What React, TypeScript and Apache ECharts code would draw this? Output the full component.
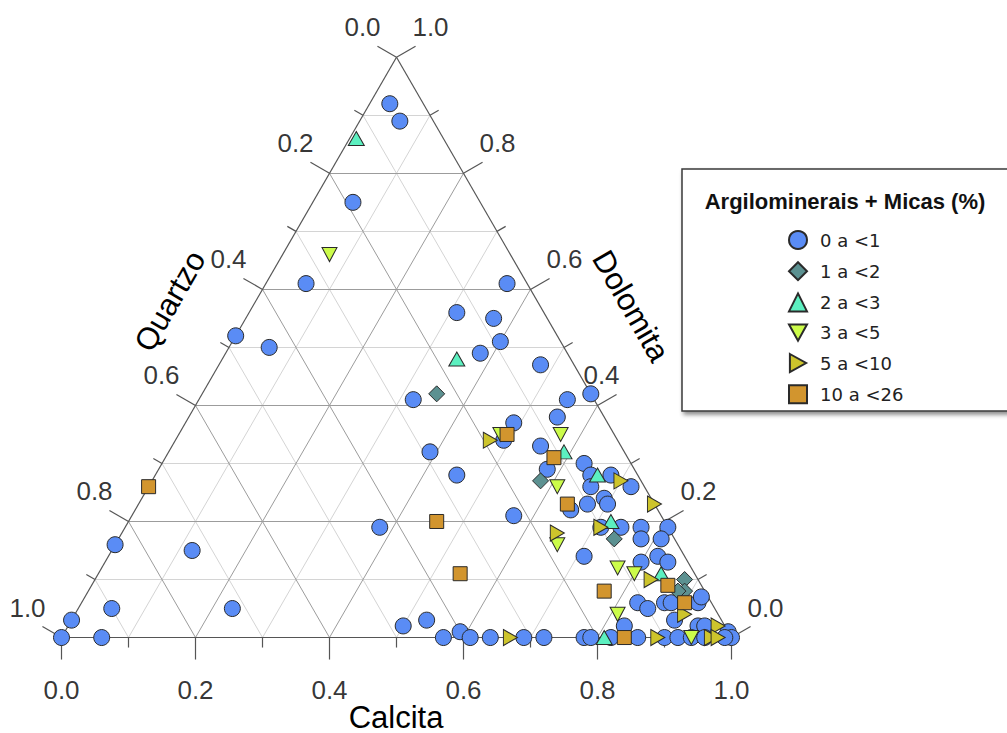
import React, { useEffect, useRef } from "react";
import * as echarts from "echarts";

// Ternary composition [Calcita, Dolomita, Quartzo] per class of Argilominerais + Micas (%)
const SERIES_NAMES = ["0 a <1", "1 a <2", "2 a <3", "3 a <5", "5 a <10", "10 a <26"];

const class0to1: number[][] = [
  [0.03, 0.92, 0.05], [0.06, 0.89, 0.05], [0.06, 0.75, 0.19], [0.06, 0.61, 0.33],
  [0.36, 0.61, 0.03], [0.0, 0.52, 0.48], [0.06, 0.5, 0.44], [0.31, 0.56, 0.13],
  [0.37, 0.55, 0.08], [0.4, 0.51, 0.09], [0.38, 0.49, 0.13], [0.48, 0.47, 0.05],
  [0.32, 0.41, 0.27], [0.58, 0.42, 0.0], [0.55, 0.41, 0.04], [0.49, 0.37, 0.14],
  [0.55, 0.38, 0.07], [0.39, 0.32, 0.29], [0.55, 0.33, 0.12], [0.49, 0.34, 0.17],
  [0.45, 0.28, 0.27], [0.58, 0.29, 0.13], [0.63, 0.3, 0.07], [0.65, 0.28, 0.07],
  [0.68, 0.28, 0.04], [0.72, 0.26, 0.02], [0.66, 0.26, 0.08], [0.69, 0.24, 0.07],
  [0.7, 0.23, 0.07], [0.67, 0.23, 0.1], [0.65, 0.22, 0.13], [0.71, 0.19, 0.1],
  [0.74, 0.19, 0.07], [0.77, 0.19, 0.04], [0.57, 0.21, 0.22], [0.71, 0.14, 0.15],
  [0.83, 0.02, 0.15], [0.78, 0.17, 0.05], [0.8, 0.13, 0.07], [0.81, 0.19, 0.0],
  [0.81, 0.17, 0.02], [0.82, 0.14, 0.04], [0.84, 0.13, 0.03], [0.83, 0.06, 0.11],
  [0.85, 0.05, 0.1], [0.87, 0.06, 0.07], [0.88, 0.06, 0.06], [0.92, 0.06, 0.02],
  [0.92, 0.07, 0.01], [0.9, 0.03, 0.07], [0.94, 0.02, 0.04], [0.95, 0.02, 0.03],
  [0.99, 0.01, 0.0], [1.0, 0.0, 0.0], [0.38, 0.19, 0.43], [0.5, 0.02, 0.48],
  [0.53, 0.03, 0.44], [0.57, 0.0, 0.43], [0.59, 0.01, 0.4], [0.61, 0.0, 0.39],
  [0.64, 0.0, 0.36], [0.69, 0.0, 0.31], [0.72, 0.0, 0.28], [0.78, 0.0, 0.22],
  [0.79, 0.0, 0.21], [0.82, 0.0, 0.18], [0.86, 0.0, 0.14], [0.9, 0.0, 0.1],
  [0.92, 0.0, 0.08], [0.94, 0.0, 0.06], [0.96, 0.0, 0.04], [0.99, 0.0, 0.01],
  [0.0, 0.16, 0.84], [0.12, 0.15, 0.73], [0.05, 0.05, 0.9], [0.23, 0.05, 0.72],
  [0.0, 0.03, 0.97], [0.0, 0.0, 1.0], [0.06, 0.0, 0.94],
];

const class1to2: number[][] = [
  [0.35, 0.42, 0.23], [0.58, 0.27, 0.15], [0.74, 0.17, 0.09],
  [0.88, 0.1, 0.02], [0.89, 0.08, 0.03], [0.88, 0.08, 0.04],
];

const class2to3: number[][] = [
  [0.01, 0.86, 0.13], [0.35, 0.48, 0.17], [0.59, 0.32, 0.09], [0.66, 0.28, 0.06],
  [0.72, 0.2, 0.08], [0.84, 0.11, 0.05], [0.81, 0.0, 0.19],
];

const class3to5: number[][] = [
  [0.07, 0.66, 0.27], [0.57, 0.35, 0.08], [0.48, 0.35, 0.17], [0.61, 0.26, 0.13],
  [0.66, 0.16, 0.18], [0.77, 0.12, 0.11], [0.8, 0.11, 0.09], [0.81, 0.04, 0.15],
  [0.94, 0.0, 0.06],
];

const class5to10: number[][] = [
  [0.47, 0.34, 0.19], [0.7, 0.27, 0.03], [0.77, 0.23, 0.0], [0.65, 0.18, 0.17],
  [0.71, 0.19, 0.1], [0.83, 0.1, 0.07], [0.97, 0.02, 0.01], [0.91, 0.04, 0.05],
  [0.67, 0.0, 0.33], [0.89, 0.0, 0.11], [0.97, 0.0, 0.03], [0.98, 0.0, 0.02],
];

const class10to26: number[][] = [
  [0.0, 0.26, 0.74], [0.49, 0.35, 0.16], [0.58, 0.31, 0.11], [0.64, 0.23, 0.13],
  [0.46, 0.2, 0.34], [0.54, 0.11, 0.35], [0.77, 0.08, 0.15], [0.86, 0.09, 0.05],
  [0.9, 0.06, 0.04], [0.84, 0.0, 0.16],
];

const CALCITA_TICKS = ["0.0", "0.2", "0.4", "0.6", "0.8", "1.0"];
const QUARTZO_TICKS = ["0.0", "0.2", "0.4", "0.6", "0.8", "1.0"];
const DOLOMITA_TICKS = ["0.0", "0.2", "0.4", "0.6", "0.8", "1.0"];

const H = Math.sqrt(3) / 2;
const toXY = (c: number, d: number) => [c + d / 2, d * H];

const DOWN = "path://M0,0L10,0L5,9Z";
const RIGHT = "path://M0,0L9,5L0,10Z";

const STYLES = [
  { symbol: "circle", size: 16, color: "#5a8cf5" },
  { symbol: "diamond", size: 16, color: "#5c9191" },
  { symbol: "triangle", size: [16, 14], color: "#5cf0c0" },
  { symbol: DOWN, size: [15, 14], color: "#ccfc4a" },
  { symbol: RIGHT, size: [14, 16], color: "#cdc42c" },
  { symbol: "rect", size: 14, color: "#d2952e" },
];

const CLASSES = [class0to1, class1to2, class2to3, class3to5, class5to10, class10to26];

export default function App() {
  const ref = useRef<HTMLDivElement>(null);
  useEffect(() => {
    if (!ref.current) return;
    const chart = echarts.init(ref.current, null, { renderer: "svg" });

    const minor: any[] = [];
    const major: any[] = [];
    for (let k = 1; k <= 9; k++) {
      const v = k / 10;
      const arr = k % 2 === 0 ? major : minor;
      arr.push({ coords: [toXY(0, v), toXY(1 - v, v)] });
      arr.push({ coords: [toXY(v, 0), toXY(v, 1 - v)] });
      arr.push({ coords: [toXY(1 - v, 0), toXY(0, 1 - v)] });
    }
    const outline = [
      { coords: [toXY(0, 0), toXY(1, 0)] },
      { coords: [toXY(1, 0), toXY(0, 1)] },
      { coords: [toXY(0, 1), toXY(0, 0)] },
    ];
    const ticks: any[] = [];
    for (let k = 0; k <= 10; k++) {
      const v = k / 10;
      const len = (k % 2 === 0 ? 22 : 10) / 670;
      const b = toXY(v, 0);
      ticks.push({ coords: [b, [b[0], b[1] - len]] });
      const l = toXY(0, 1 - v);
      ticks.push({ coords: [l, [l[0] - len * H, l[1] + len * 0.5]] });
      const r = toXY(1 - v, v);
      ticks.push({ coords: [r, [r[0] + len * H, r[1] + len * 0.5]] });
    }

    const bottomLabels = CALCITA_TICKS.map((t) => ({ name: t, value: toXY(parseFloat(t), 0) }));
    const leftLabels = QUARTZO_TICKS.map((t) => ({ name: t, value: toXY(0, 1 - parseFloat(t)) }));
    const rightLabels = DOLOMITA_TICKS.filter((t) => t !== "0.4").map((t) => ({
      name: t,
      value: toXY(1 - parseFloat(t), parseFloat(t)),
    }));
    const rightShifted = DOLOMITA_TICKS.filter((t) => t === "0.4").map((t) => ({
      name: t,
      value: toXY(1 - parseFloat(t), parseFloat(t)),
    }));

    const labelSeries = (data: any[], offset: number[]) => ({
      type: "scatter",
      silent: true,
      clip: false,
      z: 4,
      symbol: "circle",
      symbolSize: 1,
      itemStyle: { color: "rgba(0,0,0,0)" },
      label: {
        show: true,
        position: "inside",
        offset,
        formatter: (p: any) => p.name,
        fontFamily: "Liberation Sans",
        fontSize: 26,
        color: "#000",
        textBorderWidth: 0,
      },
      data,
    });

    const lineSeries = (data: any[], color: string, width: number, z: number) => ({
      type: "lines",
      coordinateSystem: "cartesian2d",
      silent: true,
      clip: false,
      z,
      lineStyle: { color, width, opacity: 1, curveness: 0 },
      data,
    });

    const dataSeries = CLASSES.map((arr, i) => ({
      name: SERIES_NAMES[i],
      type: "scatter",
      clip: false,
      z: 3,
      symbol: STYLES[i].symbol,
      symbolSize: STYLES[i].size,
      itemStyle: { color: STYLES[i].color, borderColor: "#2a2a2a", borderWidth: 1, opacity: 1 },
      data: arr.map(([c, d]) => toXY(c, d)),
    }));

    const titleText = (text: string, x: number, y: number, rotation: number) => ({
      type: "text",
      z: 11,
      x,
      y,
      rotation,
      style: {
        text,
        fontFamily: "Liberation Sans",
        fontSize: 31,
        fill: "#000",
        align: "center",
        verticalAlign: "middle",
      },
    });

    chart.setOption({
      animation: false,
      grid: { left: 61.5, top: 57.3, width: 670, height: 670 * H },
      xAxis: { type: "value", min: 0, max: 1, show: false },
      yAxis: { type: "value", min: 0, max: H, show: false },
      legend: {
        orient: "vertical",
        left: 783,
        top: 225,
        itemWidth: 18,
        itemHeight: 18,
        itemGap: 11.2,
        selectedMode: false,
        data: SERIES_NAMES,
        textStyle: { fontFamily: "DejaVu Sans", fontSize: 18, color: "#222", padding: [0, 0, 0, 8] },
        z: 10,
      },
      graphic: [
        {
          type: "rect",
          z: 1,
          shape: { x: 682, y: 169, width: 340, height: 242 },
          style: {
            fill: "#fff",
            stroke: "#3a3a3a",
            lineWidth: 1.5,
            shadowBlur: 4,
            shadowOffsetX: 2,
            shadowOffsetY: 3,
            shadowColor: "rgba(0,0,0,0.45)",
          },
        },
        {
          type: "text",
          z: 11,
          x: 845,
          y: 201,
          style: {
            text: "Argilominerais + Micas (%)",
            fontFamily: "Liberation Sans",
            fontWeight: "bold",
            fontSize: 22,
            fill: "#111",
            align: "center",
            verticalAlign: "middle",
          },
        },
        titleText("Calcita", 396, 717, 0),
        titleText("Quartzo", 170, 301, Math.PI / 3),
        titleText("Dolomita", 631, 306, -Math.PI / 3),
      ],
      series: [
        lineSeries(minor, "#d4d4d4", 1, 1),
        lineSeries(major, "#9c9c9c", 1, 1),
        lineSeries(outline, "#555", 1.2, 2),
        lineSeries(ticks, "#555", 1.2, 2),
        ...dataSeries,
        labelSeries(bottomLabels, [0, 52]),
        labelSeries(leftLabels, [-34, -30]),
        labelSeries(rightLabels, [34, -30]),
        labelSeries(rightShifted, [4, -30]),
      ],
    });
    return () => chart.dispose();
  }, []);
  return (
    <div
      ref={ref}
      style={{ position: "fixed", left: 0, top: 0, width: 1007, height: 733, background: "#fff" }}
    />
  );
}
